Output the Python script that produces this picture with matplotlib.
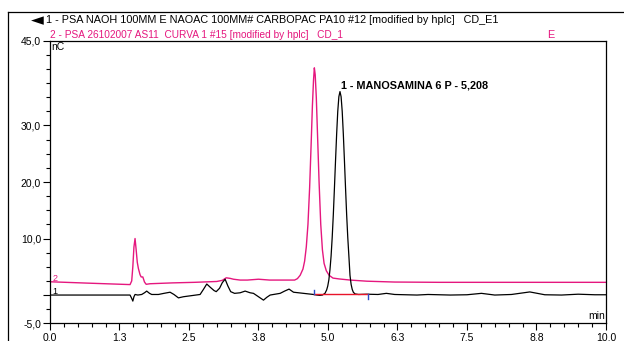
import matplotlib
matplotlib.use('Agg')
import matplotlib.pyplot as plt
from matplotlib.lines import Line2D

plt.rcParams['font.family'] = ['Liberation Sans', 'DejaVu Sans']

# trace 1 (black) - retention time (min) / signal (nC)
t1 = [0.0, 1.44, 1.47, 1.49, 1.51, 1.53, 1.58, 1.65, 1.70, 1.74, 1.79, 1.83,
      1.95, 2.05, 2.16, 2.23, 2.31, 2.40, 2.55, 2.70, 2.76, 2.82, 2.88, 2.95,
      2.99, 3.05, 3.10, 3.15, 3.20, 3.25, 3.32, 3.42, 3.51, 3.60, 3.66, 3.75,
      3.84, 3.90, 3.96, 4.14, 4.22, 4.30, 4.38, 4.47, 4.56, 4.65, 4.74, 4.80,
      4.85, 4.90, 4.946, 4.976, 4.996, 5.016, 5.036, 5.056, 5.076, 5.096,
      5.116, 5.136, 5.156, 5.176, 5.196, 5.216, 5.236, 5.256, 5.276, 5.296,
      5.316, 5.336, 5.356, 5.376, 5.396, 5.416, 5.436, 5.456, 5.486, 5.55,
      5.70, 5.90, 6.05, 6.20, 6.40, 6.60, 6.80, 7.20, 7.50, 7.76, 8.00, 8.30,
      8.63, 8.90, 9.20, 9.50, 9.80, 10.0]
y1 = [0.0, 0.0, -0.6, -1.07, -0.3, 0.1, 0.0, 0.1, 0.4, 0.7, 0.3, 0.1,
      0.1, 0.3, 0.5, 0.1, -0.5, -0.3, -0.1, 0.1, 1.0, 1.95, 1.4, 0.8,
      0.6, 1.2, 2.2, 2.8, 1.6, 0.6, 0.3, 0.4, 0.7, 0.4, 0.3, -0.3,
      -0.9, -0.4, 0.0, 0.3, 0.7, 1.05, 0.5, 0.4, 0.3, 0.2, 0.1, 0.0,
      -0.05, 0.0, 0.3, 0.9, 1.6, 2.7, 4.5, 6.9, 10.2, 14.2,
      18.9, 23.8, 28.5, 32.5, 35.1, 36.0, 35.1, 32.5, 28.5, 23.8,
      18.9, 14.2, 10.2, 6.9, 3.5, 1.9, 1.0, 0.5, 0.2, 0.1,
      0.15, 0.1, 0.3, 0.1, 0.05, 0.0, 0.1, 0.0, 0.05, 0.3, 0.0, 0.1,
      0.55, 0.05, 0.0, 0.15, 0.05, 0.05]

# trace 2 (pink)
t2 = [0.0, 0.7, 1.44, 1.47, 1.49, 1.51, 1.53, 1.55, 1.57, 1.59, 1.62, 1.64,
      1.67, 1.70, 1.73, 1.80, 2.2, 2.6, 3.0, 3.10, 3.17, 3.24, 3.30, 3.42,
      3.55, 3.75, 3.95, 4.25, 4.40, 4.45, 4.50, 4.55, 4.58, 4.61, 4.64, 4.67,
      4.70, 4.72, 4.74, 4.755, 4.77, 4.79, 4.81, 4.84, 4.87, 4.90, 4.93, 4.97,
      5.02, 5.09, 5.20, 5.40, 5.70, 6.20, 7.0, 8.0, 9.0, 10.0]
y2 = [2.35, 2.1, 1.85, 2.5, 5.0, 8.5, 10.0, 8.0, 5.8, 4.7, 3.6, 3.2,
      3.2, 2.3, 1.9, 2.0, 2.15, 2.25, 2.4, 2.6, 3.05, 2.95, 2.8, 2.65,
      2.65, 2.8, 2.65, 2.65, 2.65, 2.9, 3.5, 4.6, 6.0, 8.5, 12.5, 19.0,
      27.5, 33.5, 38.0, 40.2, 39.0, 35.0, 29.0, 20.0, 12.5, 8.0, 5.6, 4.3,
      3.5, 3.0, 2.85, 2.65, 2.45, 2.3, 2.25, 2.25, 2.25, 2.25]

# integration of peak 1
peak_start, peak_end = 4.74, 5.72
peak_base = 0.15
peak_rt = 5.216
peak_top = 36.0
peak_label = '1 - MANOSAMINA 6 P - 5,208'

x_major = [0.0, 1.25, 2.5, 3.75, 5.0, 6.25, 7.5, 8.75, 10.0]
x_labels = ['0,0', '1,3', '2,5', '3,8', '5,0', '6,3', '7,5', '8,8', '10,0']
y_major = [45, 30, 20, 10, 0, -5]
y_labels = ['45,0', '30,0', '20,0', '10,0', '', '-5,0']

legend1 = '1 - PSA NAOH 100MM E NAOAC 100MM# CARBOPAC PA10 #12 [modified by hplc]   CD_E1'
legend2 = '2 - PSA 26102007 AS11  CURVA 1 #15 [modified by hplc]   CD_1'

pink = '#e5177e'

fig = plt.figure(figsize=(6.24, 3.41), dpi=100)
ax = fig.add_axes([0.0801, 0.0519, 0.8910, 0.8287])

ax.plot(t2, y2, color=pink, lw=1.0)
ax.plot(t1, y1, color='black', lw=0.9)

# baseline drawn by integration + start/end markers
ax.plot([peak_start, peak_end], [peak_base, peak_base], color='#e8142a', lw=1.0)
ax.plot([peak_start, peak_start], [peak_base, peak_base + 0.8], color='#2a4bc8', lw=1.0)
ax.plot([peak_end, peak_end], [peak_base, peak_base - 0.9], color='#2a4bc8', lw=1.0)

ax.annotate(peak_label, xy=(peak_rt, peak_top), xytext=(1, 1),
            textcoords='offset points', fontsize=7.8, fontweight='bold',
            ha='left', va='bottom')

ax.set_xlim(0, 10)
ax.set_ylim(-5, 45)
ax.set_xticks(x_major)
ax.set_xticklabels(x_labels)
ax.set_xticks([i * 0.25 for i in range(41)], minor=True)
ax.set_yticks(y_major)
ax.set_yticklabels(y_labels)
ax.set_yticks([-5 + i * 2.5 for i in range(21)], minor=True)
ax.tick_params(which='major', length=5, width=0.8, labelsize=7.5, pad=1.5)
ax.tick_params(which='minor', length=3, width=0.8)
for s in ax.spines.values():
    s.set_linewidth(0.9)

ax.text(0.003, 0.995, 'nC', transform=ax.transAxes, fontsize=7.5, va='top', ha='left')
ax.text(0.999, 0.008, 'min', transform=ax.transAxes, fontsize=7.5, va='bottom', ha='right')
ax.text(0.05, 3.0, '2', color=pink, fontsize=6.5, va='center', ha='left')
ax.text(0.05, 0.7, '1', color='black', fontsize=6.5, va='center', ha='left')

# header / legend texts
fig.text(31 / 624, 1 - 20 / 341, '\u25c4', fontsize=12, va='center', ha='left',
         family=['DejaVu Sans'])
fig.text(46 / 624, 1 - 20 / 341, legend1, fontsize=7.8, va='center', ha='left')
fig.text(50 / 624, 1 - 34.5 / 341, legend2, fontsize=7.3, va='center', ha='left', color=pink)
fig.text(547 / 624, 1 - 34.5 / 341, 'E', fontsize=7.8, va='center', ha='left', color=pink)

# outer frame
fig.add_artist(Line2D([8 / 624, 1.0], [1 - 12 / 341, 1 - 12 / 341], color='black', lw=0.9))
fig.add_artist(Line2D([8 / 624, 8 / 624], [0.0, 1 - 12 / 341], color='black', lw=0.9))

fig.savefig('out.png', dpi=100)
